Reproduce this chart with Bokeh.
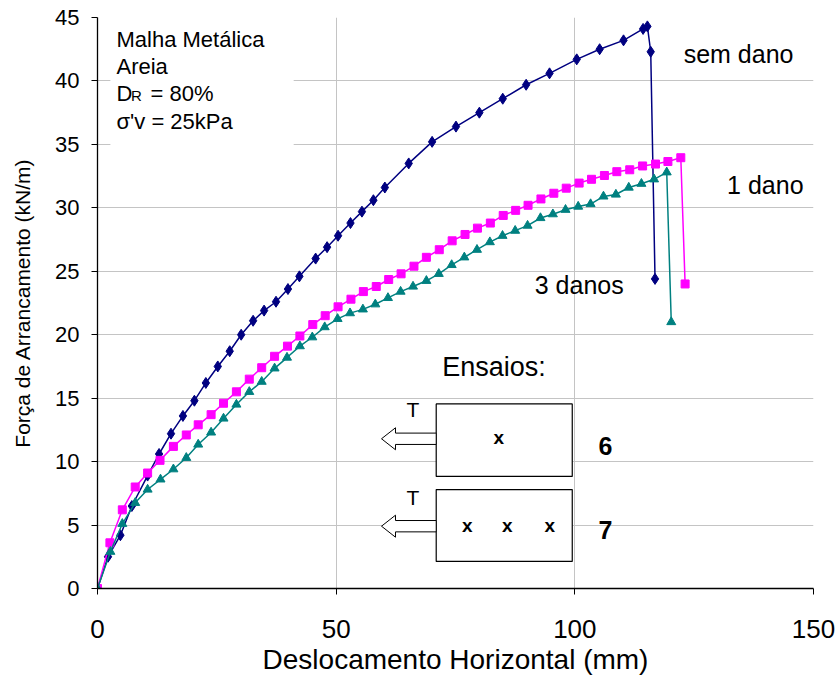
from bokeh.plotting import figure
from bokeh.models import Range1d, FixedTicker, Label
from bokeh.embed import file_html
from bokeh.resources import INLINE

# ---- data ----
sem_dano_x = [0, 2.2, 4.8, 7.2, 10.5, 12.9, 15.4, 17.9, 20.3, 22.7, 25.2, 27.7, 30.1, 32.6, 34.9,
              37.4, 39.9, 42.3, 45.7, 48.1, 50.4, 53.0, 55.4, 57.8, 60.2, 65.2, 70.1, 75.1, 80.0,
              84.9, 89.8, 94.7, 100.4, 105.2, 110.2, 114.3, 115.2, 115.9, 116.8]
sem_dano_y = [0, 2.5, 4.2, 6.5, 8.9, 10.6, 12.2, 13.6, 14.8, 16.2, 17.5, 18.7, 20.0, 21.1, 21.9,
              22.6, 23.6, 24.6, 26.0, 26.9, 27.8, 28.8, 29.7, 30.6, 31.6, 33.5, 35.2, 36.4, 37.5,
              38.6, 39.7, 40.6, 41.7, 42.5, 43.2, 44.1, 44.3, 42.3, 24.4]

um_dano_x = [0, 2.6, 5.2, 7.9, 10.5, 13.1, 15.9, 18.6, 21.1, 23.8, 26.4, 29.1, 31.8, 34.4, 37.1,
             39.8, 42.4, 45.1, 47.7, 50.4, 53.1, 55.7, 58.4, 61.0, 63.6, 66.3, 68.9, 71.6, 74.3,
             77.0, 79.6, 82.3, 85.0, 87.6, 90.2, 92.9, 95.6, 98.2, 100.9, 103.5, 106.2, 108.8,
             111.5, 114.2, 116.9, 119.5, 122.2, 123.1]
um_dano_y = [0, 3.6, 6.2, 8.0, 9.1, 10.1, 11.2, 12.1, 12.9, 13.7, 14.6, 15.5, 16.5, 17.4, 18.3,
             19.1, 19.9, 20.8, 21.5, 22.2, 22.8, 23.4, 23.8, 24.35, 24.8, 25.4, 26.1, 26.7, 27.4,
             27.9, 28.4, 28.8, 29.4, 29.8, 30.2, 30.7, 31.15, 31.55, 31.95, 32.25, 32.55, 32.85,
             33.0, 33.3, 33.45, 33.65, 33.95, 24.0]

tres_danos_x = [0, 2.7, 5.2, 7.9, 10.5, 13.2, 15.9, 18.6, 21.1, 23.8, 26.4, 29.1, 31.8, 34.4, 37.1,
                39.7, 42.4, 45.0, 47.6, 50.3, 52.9, 55.6, 58.2, 60.85, 63.5, 66.1, 68.9, 71.5, 74.2,
                76.85, 79.5, 82.2, 84.85, 87.5, 90.1, 92.8, 95.4, 98.05, 100.7, 103.3, 106.0, 108.6,
                111.3, 113.95, 116.6, 119.25, 120.2]
tres_danos_y = [0, 2.9, 5.1, 6.75, 7.8, 8.6, 9.4, 10.3, 11.35, 12.3, 13.4, 14.5, 15.5, 16.3, 17.35,
                18.2, 19.1, 19.8, 20.6, 21.25, 21.7, 22.0, 22.4, 22.9, 23.4, 23.8, 24.25, 24.8, 25.5,
                26.1, 26.7, 27.3, 27.8, 28.2, 28.6, 29.2, 29.5, 29.85, 30.1, 30.3, 30.9, 31.05,
                31.6, 31.9, 32.25, 32.8, 21.0]

x_ticks = [0, 50, 100, 150]
y_ticks = [0, 5, 10, 15, 20, 25, 30, 35, 40, 45]

FONT = "Liberation Sans"
PX_PER_Y = 571.0 / 45.0  # vertical pixels per data unit (layout helper)

p = figure(width=837, height=680, title=None,
           x_range=Range1d(0, 150), y_range=Range1d(0, 45),
           output_backend="svg", toolbar_location=None,
           min_border_left=97, min_border_right=24, min_border_top=17, min_border_bottom=92)
p.background_fill_color = "white"
p.border_fill_color = "white"
p.outline_line_color = None

# axes
p.xaxis.ticker = FixedTicker(ticks=x_ticks)
p.yaxis.ticker = FixedTicker(ticks=y_ticks)
p.xgrid.ticker = FixedTicker(ticks=x_ticks)
p.ygrid.ticker = FixedTicker(ticks=y_ticks)
for g in (p.xgrid, p.ygrid):
    g.grid_line_color = "#c4c4c4"
    g.grid_line_width = 1
for ax in (p.xaxis, p.yaxis):
    ax.axis_line_color = "black"
    ax.axis_line_width = 1.3
    ax.major_tick_line_color = "black"
    ax.major_tick_in = 0
    ax.major_tick_out = 6
    ax.minor_tick_line_color = None
    ax.major_label_text_font = FONT
    ax.major_label_text_color = "black"
    ax.axis_label_text_font = FONT
    ax.axis_label_text_font_style = "normal"
    ax.axis_label_text_color = "black"
p.xaxis.major_label_text_font_size = "26px"
p.yaxis.major_label_text_font_size = "22px"
p.xaxis.major_label_standoff = 25
p.yaxis.major_label_standoff = 12
p.xaxis.axis_label = "Deslocamento Horizontal (mm)"
p.yaxis.axis_label = "Força de Arrancamento (kN/m)"
p.xaxis.axis_label_text_font_size = "28px"
p.yaxis.axis_label_text_font_size = "21px"
p.xaxis.axis_label_standoff = 3
p.yaxis.axis_label_standoff = 18

# info box
p.quad(left=[2.7], right=[41.1], bottom=[34.5], top=[44.75],
       fill_color="white", line_color=None)

# series
p.line(sem_dano_x, sem_dano_y, line_color="#000080", line_width=1.5)
p.scatter(sem_dano_x, sem_dano_y, marker="diamond", size=11,
          fill_color="#000080", line_color="#000080")
p.line(um_dano_x, um_dano_y, line_color="#FF00FF", line_width=1.5)
p.scatter(um_dano_x, um_dano_y, marker="square", size=8,
          fill_color="#FF00FF", line_color="#FF00FF")
p.line(tres_danos_x, tres_danos_y, line_color="#008080", line_width=1.5)
p.scatter(tres_danos_x, tres_danos_y, marker="triangle", size=9,
          fill_color="#008080", line_color="#008080")

# diagram boxes
p.quad(left=[70.96, 70.96], right=[99.46, 99.46], bottom=[8.83, 2.13], top=[14.55, 7.80],
       fill_color="white", line_color="black", line_width=1.2)

def arrow(yc):
    tip, base, end = 59.5, 62.43, 70.96
    hs, hh = 0.447, 0.867
    xs = [tip, base, base, end, end, base, base]
    ys = [yc, yc + hh, yc + hs, yc + hs, yc - hs, yc - hs, yc - hh]
    return xs, ys

a1 = arrow(11.80)
a2 = arrow(4.91)
p.patches(xs=[a1[0], a2[0]], ys=[a1[1], a2[1]], fill_color="white",
          line_color="black", line_width=1)

def lab(x, y, text, size, align="left", bold=False):
    # y is the visual baseline; compensate for the renderer's baseline offset
    y_adj = y + 0.37 * size / PX_PER_Y
    p.add_layout(Label(x=x, y=y_adj, text=text, text_font=FONT, text_font_size=f"{size}px",
                       text_align=align, text_baseline="alphabetic", text_color="black",
                       text_font_style="bold" if bold else "normal"))

# info text
lab(3.98, 42.6, "Malha Metálica", 22)
lab(3.98, 40.48, "Areia", 22)
lab(3.98, 38.38, "D", 22)
lab(7.0, 38.38, "R", 15)
lab(11.1, 38.38, "= 80%", 22)
lab(3.98, 36.17, "σ'v = 25kPa", 22)

# series labels
lab(122.8, 41.37, "sem dano", 25)
lab(131.9, 31.05, "1 dano", 25)
lab(91.6, 23.22, "3 danos", 25)

# diagram text
lab(72.2, 16.65, "Ensaios:", 27)
lab(66.1, 13.5, "T", 21, align="center")
lab(66.1, 6.54, "T", 21, align="center")
lab(84.08, 11.35, "x", 19, align="center", bold=True)
for xx in (77.46, 85.84, 94.77):
    lab(xx, 4.44, "x", 19, align="center", bold=True)
lab(106.4, 10.48, "6", 25, align="center", bold=True)
lab(106.4, 3.92, "7", 25, align="center", bold=True)

open("out.html", "w").write(file_html(p, INLINE))
